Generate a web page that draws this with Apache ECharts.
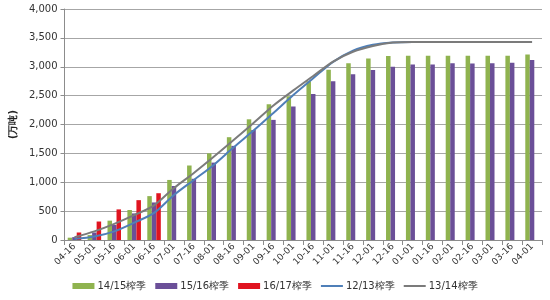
<!DOCTYPE html>
<html><head><meta charset="utf-8">
<script src="https://cdn.jsdelivr.net/npm/echarts@6/dist/echarts.min.js"></script>
<style>html,body{margin:0;padding:0;background:#fff}#c{width:550px;height:300px}</style>
</head><body><div id="c"></div>
<script>
var categories = ["04-16","05-01","05-16","06-01","06-16","07-01","07-16","08-01","08-16","09-01","09-16","10-01","10-16","11-01","11-16","12-01","12-16","01-01","01-16","02-01","02-16","03-01","03-16","04-01"];
var s1415 = [40, 85, 335, 520, 760, 1040, 1290, 1500, 1780, 2090, 2350, 2490, 2750, 2950, 3060, 3145, 3185, 3190, 3190, 3190, 3190, 3190, 3190, 3210];
var s1516 = [50, 130, 260, 460, 650, 935, 1060, 1340, 1630, 1905, 2080, 2310, 2530, 2750, 2870, 2945, 3000, 3040, 3040, 3060, 3055, 3060, 3070, 3115];
var s1617 = [130, 320, 530, 690, 810, null, null, null, null, null, null, null, null, null, null, null, null, null, null, null, null, null, null, null];
var s1213 = [20, 60, 150, 300, 470, 780, 1040, 1300, 1605, 1895, 2200, 2510, 2800, 3085, 3280, 3380, 3420, 3430, 3430, 3430, 3430, 3430, 3430, 3430];
var s1314 = [50, 150, 280, 430, 600, 900, 1160, 1440, 1730, 2025, 2330, 2590, 2840, 3090, 3260, 3360, 3420, 3430, 3430, 3430, 3430, 3430, 3430, 3430];
var yTicks = {min: 0, max: 4000, interval: 500};
var names = ["14/15榨季","15/16榨季","16/17榨季","12/13榨季","13/14榨季"];

var font = "'DejaVu Sans', sans-serif";
var chart = echarts.init(document.getElementById('c'), null, {renderer: 'canvas'});
function bar(name, data, color) {
  return {name: name, type: 'bar', data: data, barGap: '0%', barCategoryGap: '32%',
    itemStyle: {color: color}, animation: false};
}
function line(name, data, color) {
  return {name: name, type: 'line', data: data, smooth: 0.3, showSymbol: false, symbol: 'none',
    lineStyle: {color: color, width: 2}, itemStyle: {color: color}, animation: false};
}
var lineIcon = 'path://M0,0 L22,0 L22,2 L0,2 Z';
chart.setOption({
  animation: false,
  grid: {left: 62, right: 8, top: 9, bottom: 60},
  legend: {
    bottom: 4, left: 'center', itemWidth: 22, itemHeight: 6, itemGap: 9,
    textStyle: {fontFamily: font, fontSize: 10, color: '#333', padding: [0, 0, 0, -2]},
    data: [
      {name: names[0], icon: 'rect'}, {name: names[1], icon: 'rect'}, {name: names[2], icon: 'rect'},
      {name: names[3], icon: lineIcon}, {name: names[4], icon: lineIcon}
    ]
  },
  xAxis: {
    type: 'category', data: categories,
    axisLine: {lineStyle: {color: '#8c8c8c', width: 1}},
    axisTick: {show: true, alignWithLabel: false, lineStyle: {color: '#8c8c8c'}},
    axisLabel: {rotate: 45, interval: 0, fontFamily: font, fontSize: 9, color: '#333', margin: 5}
  },
  yAxis: {
    type: 'value', min: yTicks.min, max: yTicks.max, interval: yTicks.interval,
    name: '(万吨)', nameLocation: 'middle', nameGap: 46, nameRotate: 90,
    nameTextStyle: {fontFamily: font, fontSize: 10, fontWeight: 'bold', color: '#222'},
    axisLine: {show: true, lineStyle: {color: '#8c8c8c'}},
    axisTick: {show: true, length: 4, lineStyle: {color: '#8c8c8c'}},
    splitLine: {lineStyle: {color: '#a6a6a6', width: 1}},
    axisLabel: {fontFamily: font, fontSize: 10, color: '#333', margin: 7,
      formatter: function (v) { return v.toLocaleString('en-US'); }}
  },
  series: [
    bar(names[0], s1415, '#8fb34f'),
    bar(names[1], s1516, '#6b4f98'),
    bar(names[2], s1617, '#e01420'),
    line(names[3], s1213, '#4f7fb8'),
    line(names[4], s1314, '#7b7b7b')
  ]
});
</script>
</body></html>
